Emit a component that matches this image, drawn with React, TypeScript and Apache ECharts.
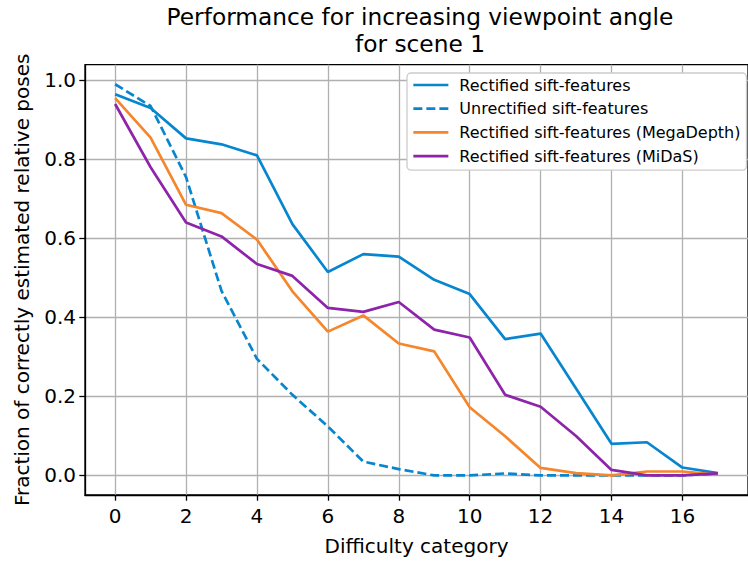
import React, { useEffect, useRef } from "react";
import * as echarts from "echarts";

const categories = [0, 1, 2, 3, 4, 5, 6, 7, 8, 9, 10, 11, 12, 13, 14, 15, 16, 17];
const rectified = [0.965, 0.93, 0.853, 0.838, 0.81, 0.636, 0.515, 0.56, 0.554, 0.495, 0.459, 0.345, 0.359, 0.22, 0.08, 0.084, 0.02, 0.006];
const unrectified = [0.99, 0.935, 0.755, 0.467, 0.295, 0.204, 0.124, 0.035, 0.016, 0, 0, 0.005, 0, 0, 0, 0, 0, 0.005];
const megaDepth = [0.955, 0.855, 0.685, 0.664, 0.597, 0.466, 0.364, 0.405, 0.334, 0.314, 0.1725, 0.099, 0.019, 0.006, 0, 0.01, 0.01, 0.002];
const midas = [0.94, 0.78, 0.64, 0.605, 0.535, 0.505, 0.424, 0.414, 0.439, 0.369, 0.349, 0.204, 0.174, 0.1, 0.014, 0, 0, 0.005];
const xTicks = [0, 2, 4, 6, 8, 10, 12, 14, 16];
const yTicks = [0, 0.2, 0.4, 0.6, 0.8, 1.0];
const seriesNames = [
  "Rectified sift-features",
  "Unrectified sift-features",
  "Rectified sift-features (MegaDepth)",
  "Rectified sift-features (MiDaS)",
];

const FONT = "DejaVu Sans";
const BLUE = "#0786cf";
const ORANGE = "#f5862c";
const PURPLE = "#8e24aa";

function pairs(vals: number[]) {
  return categories.map((c, i) => [c, vals[i]]);
}

export default function App() {
  const ref = useRef<HTMLDivElement>(null);
  useEffect(() => {
    if (!ref.current) return;
    const chart = echarts.init(ref.current, undefined, { renderer: "svg" });
    const mk = (name: string, vals: number[], color: string, dashed = false) => ({
      name,
      type: "line",
      data: pairs(vals),
      showSymbol: false,
      symbol: "none",
      color,
      lineStyle: { color, width: 2.7, type: dashed ? [9, 4] : "solid" },
    });
    chart.setOption({
      animation: false,
      title: {
        text: "Performance for increasing viewpoint angle\nfor scene 1",
        left: 420,
        top: 3,
        padding: 0,
        textAlign: "center",
        textStyle: {
          fontFamily: FONT,
          fontSize: 23.3,
          fontWeight: "normal",
          color: "#000",
          lineHeight: 27,
        },
      },
      legend: {
        orient: "vertical",
        left: 407,
        top: 73,
        padding: [4, 6, 6, 5],
        itemWidth: 35,
        itemHeight: 16,
        itemGap: 7.7,
        backgroundColor: "#ffffff",
        borderColor: "#cccccc",
        borderWidth: 1.3,
        borderRadius: 4,
        itemStyle: { opacity: 0 },
        lineStyle: { width: 2.7 },
        data: seriesNames,
        textStyle: {
          fontFamily: FONT,
          fontSize: 16,
          color: "#000",
          padding: [0, 0, 0, 6],
        },
      },
      grid: {
        left: 85,
        top: 64.7,
        width: 670,
        height: 435,
        show: true,
        borderColor: "#000",
        borderWidth: 1.3,
        backgroundColor: "transparent",
      },
      xAxis: {
        type: "value",
        min: -0.85,
        max: 17.85,
        name: "Difficulty category",
        nameLocation: "middle",
        nameGap: 41,
        nameTextStyle: { fontFamily: FONT, fontSize: 20, color: "#000" },
        axisLine: { show: true, onZero: false, lineStyle: { color: "#000", width: 1.3 } },
        axisTick: {
          show: true,
          length: 5.7,
          customValues: xTicks,
          lineStyle: { color: "#000", width: 1.3 },
        },
        axisLabel: {
          customValues: xTicks,
          margin: 11,
          fontFamily: FONT,
          fontSize: 20,
          color: "#000",
        },
        splitLine: { show: true, lineStyle: { color: "#b0b0b0", width: 1.3 } },
      },
      yAxis: {
        type: "value",
        min: -0.0495,
        max: 1.0395,
        name: "Fraction of correctly estimated relative poses",
        nameLocation: "middle",
        nameGap: 53,
        nameTextStyle: { fontFamily: FONT, fontSize: 20, color: "#000" },
        axisLine: { show: true, onZero: false, lineStyle: { color: "#000", width: 1.3 } },
        axisTick: {
          show: true,
          length: 5.7,
          customValues: yTicks,
          lineStyle: { color: "#000", width: 1.3 },
        },
        axisLabel: {
          customValues: yTicks,
          margin: 9,
          fontFamily: FONT,
          fontSize: 20,
          color: "#000",
          formatter: (v: number) => v.toFixed(1),
        },
        splitLine: { show: true, lineStyle: { color: "#b0b0b0", width: 1.3 } },
      },
      series: [
        mk(seriesNames[0], rectified, BLUE),
        mk(seriesNames[1], unrectified, BLUE, true),
        mk(seriesNames[2], megaDepth, ORANGE),
        mk(seriesNames[3], midas, PURPLE),
      ],
    });
    return () => chart.dispose();
  }, []);
  return (
    <div
      ref={ref}
      style={{ position: "fixed", left: 0, top: 0, width: 748, height: 561, overflow: "hidden", background: "#fff" }}
    />
  );
}
